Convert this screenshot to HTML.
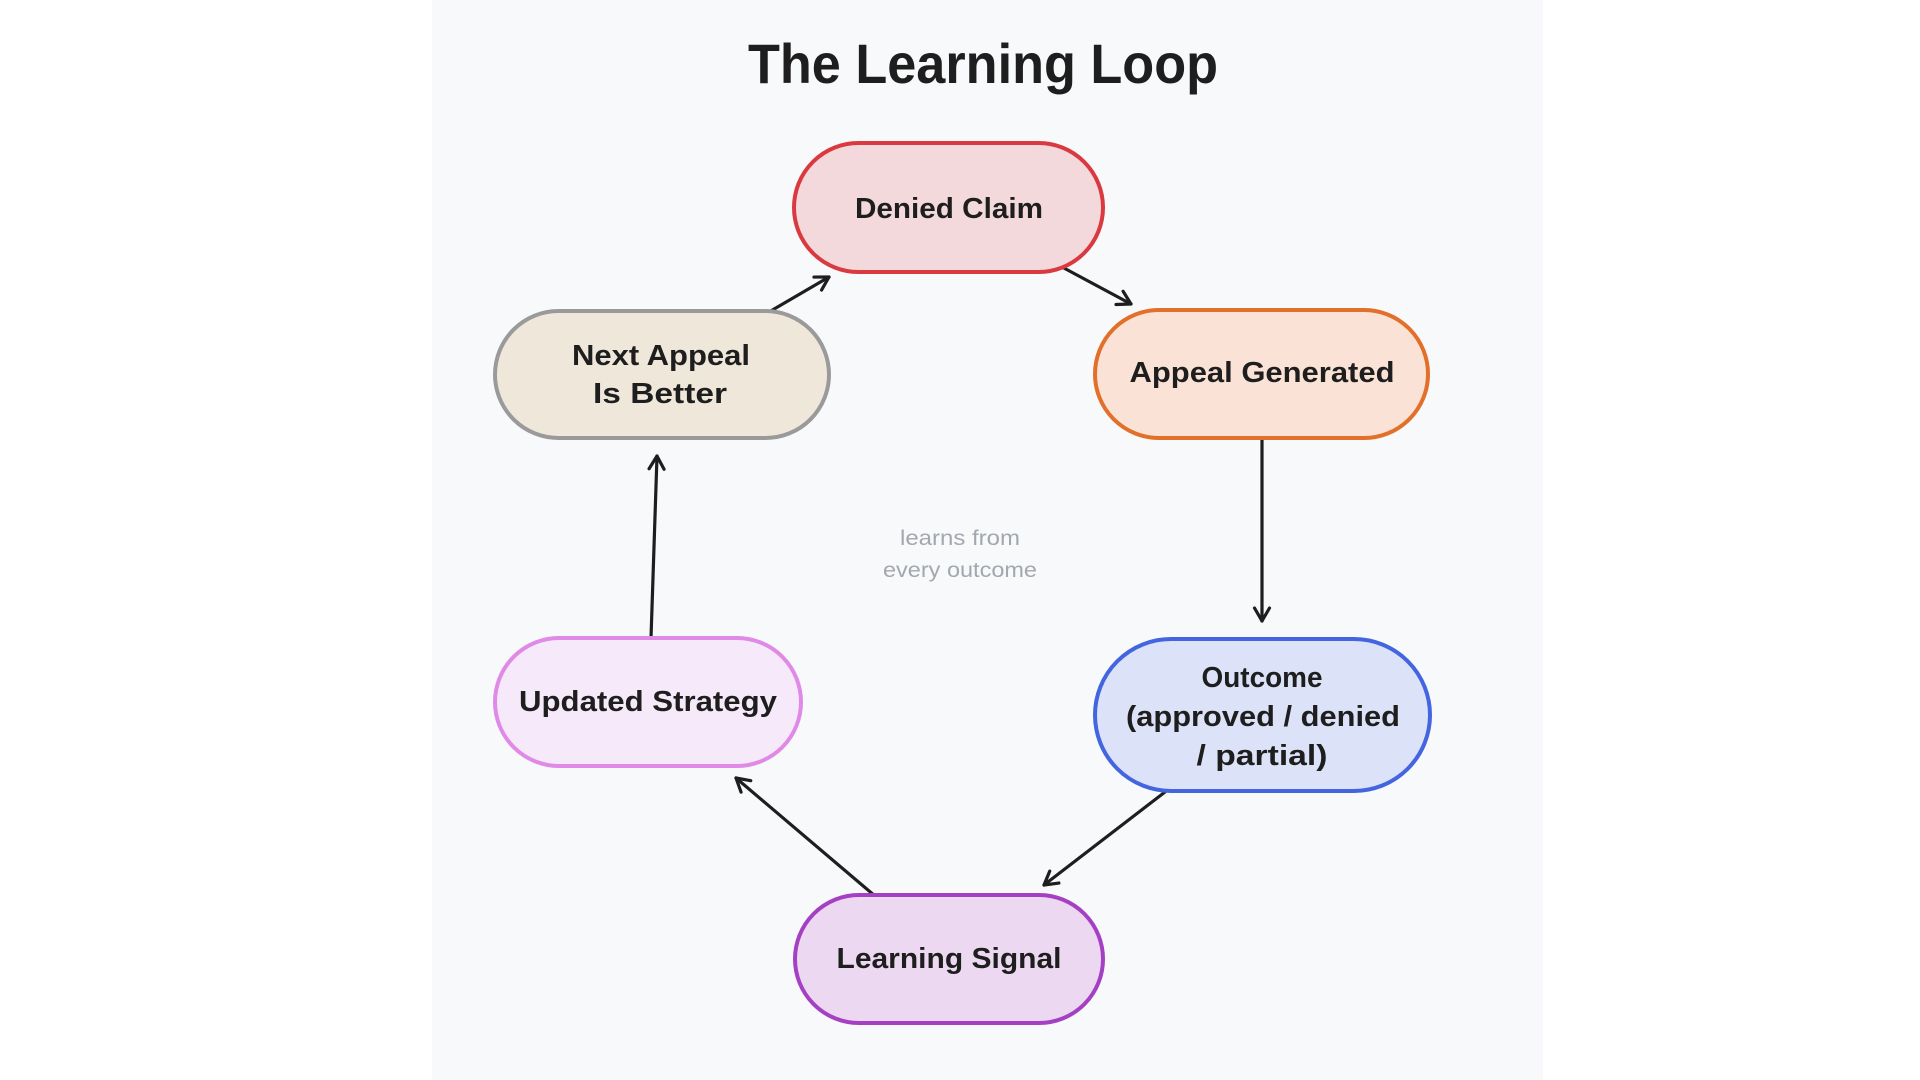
<!DOCTYPE html>
<html>
<head>
<meta charset="utf-8">
<style>
  html, body { margin: 0; padding: 0; background: #ffffff; }
  body { width: 1920px; height: 1080px; overflow: hidden; }
  svg { display: block; }
</style>
</head>
<body>
<svg width="1920" height="1080" viewBox="0 0 1920 1080" xmlns="http://www.w3.org/2000/svg">
  <defs>
    <marker id="ah" markerUnits="userSpaceOnUse" markerWidth="30" markerHeight="30" refX="0" refY="0" viewBox="-20 -15 30 30" orient="auto">
      <path d="M-13,-7.5 L0,0 L-13,7.5" fill="none" stroke="#1e1e1e" stroke-width="3.2" stroke-linecap="round" stroke-linejoin="round"/>
    </marker>
  </defs>

  <rect x="0" y="0" width="1920" height="1080" fill="#ffffff"/>
  <rect x="432" y="0" width="1111" height="1080" fill="#f8f9fb"/>

  <!-- Title -->
  <text x="983" y="83" text-anchor="middle" font-family="Liberation Sans, sans-serif" font-weight="bold" font-size="56" fill="#1e1e1e" textLength="470" lengthAdjust="spacingAndGlyphs">The Learning Loop</text>

  <!-- Connectors -->
  <g stroke="#1e1e1e" stroke-width="3.2" fill="none" stroke-linecap="round">
    <line x1="1062" y1="267" x2="1131" y2="304" marker-end="url(#ah)"/>
    <line x1="1262" y1="440" x2="1262" y2="621" marker-end="url(#ah)"/>
    <line x1="1165" y1="792" x2="1044" y2="885" marker-end="url(#ah)"/>
    <line x1="875" y1="896" x2="736" y2="778" marker-end="url(#ah)"/>
    <line x1="651" y1="638" x2="657" y2="456" marker-end="url(#ah)"/>
    <line x1="769" y1="312" x2="829" y2="277" marker-end="url(#ah)"/>
  </g>

  <!-- Nodes -->
  <g stroke-width="4">
    <rect x="794" y="143" width="309" height="129" rx="64.5" fill="#f3d9dc" stroke="#d9393f"/>
    <rect x="1095" y="310" width="333" height="128" rx="64" fill="#fae3d6" stroke="#e2702a"/>
    <rect x="1095" y="639" width="335" height="152" rx="76" fill="#dce2f7" stroke="#4365e0"/>
    <rect x="795" y="895" width="308" height="128" rx="64" fill="#ecd9f1" stroke="#a540c4"/>
    <rect x="495" y="638" width="306" height="128" rx="64" fill="#f6e9f9" stroke="#e08ae8"/>
    <rect x="495" y="311" width="334" height="127" rx="63.5" fill="#efe8da" stroke="#9a9a9a"/>
  </g>

  <!-- Node labels -->
  <g font-family="Liberation Sans, sans-serif" font-weight="bold" font-size="29" fill="#1e1e1e" text-anchor="middle">
    <text x="949" y="218" textLength="188" lengthAdjust="spacingAndGlyphs">Denied Claim</text>
    <text x="1262" y="382" textLength="265" lengthAdjust="spacingAndGlyphs">Appeal Generated</text>
    <text x="1262" y="687" textLength="121" lengthAdjust="spacingAndGlyphs">Outcome</text>
    <text x="1263" y="726" textLength="274" lengthAdjust="spacingAndGlyphs">(approved / denied</text>
    <text x="1262" y="765" textLength="131" lengthAdjust="spacingAndGlyphs">/ partial)</text>
    <text x="949" y="968" textLength="225" lengthAdjust="spacingAndGlyphs">Learning Signal</text>
    <text x="648" y="711" textLength="258" lengthAdjust="spacingAndGlyphs">Updated Strategy</text>
    <text x="661" y="365" textLength="178" lengthAdjust="spacingAndGlyphs">Next Appeal</text>
    <text x="660" y="403" textLength="134" lengthAdjust="spacingAndGlyphs">Is Better</text>
  </g>

  <!-- Center annotation -->
  <g font-family="Liberation Sans, sans-serif" font-size="21" fill="#a3a7ae" text-anchor="middle">
    <text x="960" y="545" textLength="120" lengthAdjust="spacingAndGlyphs">learns from</text>
    <text x="960" y="577" textLength="154" lengthAdjust="spacingAndGlyphs">every outcome</text>
  </g>
</svg>
</body>
</html>
